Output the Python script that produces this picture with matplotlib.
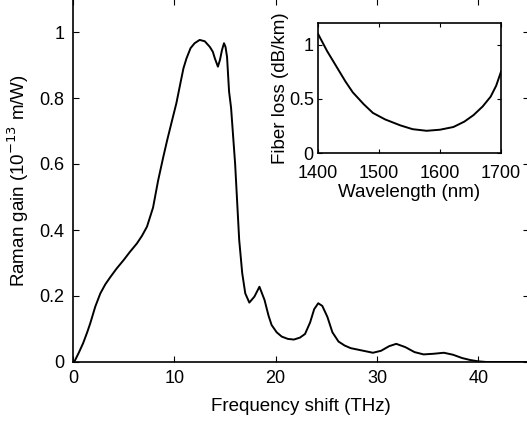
import matplotlib.pyplot as plt
from matplotlib.ticker import FuncFormatter

plt.rcParams['font.family'] = ['Liberation Sans', 'DejaVu Sans']

# Raman gain spectrum
freq_thz = [0.0, 0.2, 0.6, 1.0, 1.4, 1.7, 2.2, 2.7, 3.2, 3.7, 4.3, 5.0, 5.6, 6.3,
            6.8, 7.3, 7.9, 8.4, 8.9, 9.3, 9.8, 10.2, 10.6, 10.9, 11.2, 11.6, 12.0,
            12.5, 13.0, 13.5, 13.8, 14.0, 14.3, 14.5, 14.7, 14.9, 15.05, 15.2,
            15.4, 15.6, 16.0, 16.4, 16.7, 17.0, 17.4, 17.9, 18.4, 18.9, 19.3,
            19.6, 20.1, 20.6, 21.2, 21.8, 22.4, 22.9, 23.4, 23.8, 24.2, 24.6,
            25.1, 25.6, 26.2, 26.8, 27.4, 28.5, 29.6, 30.4, 31.2, 31.9, 32.8,
            33.7, 34.6, 35.6, 36.6, 37.5, 38.4, 39.2, 40.0, 40.8, 42.0, 45.0]
gain = [0.0, 0.005, 0.03, 0.057, 0.09, 0.117, 0.168, 0.208, 0.236, 0.258, 0.283,
        0.309, 0.333, 0.359, 0.382, 0.41, 0.468, 0.55, 0.62, 0.673, 0.735, 0.784,
        0.845, 0.89, 0.92, 0.951, 0.966, 0.976, 0.972, 0.955, 0.94, 0.92, 0.895,
        0.915, 0.945, 0.966, 0.955, 0.925, 0.82, 0.77, 0.6, 0.37, 0.269, 0.208,
        0.18, 0.198, 0.228, 0.188, 0.14, 0.112, 0.09, 0.077, 0.07, 0.068, 0.074,
        0.085, 0.12, 0.16, 0.178, 0.17, 0.137, 0.09, 0.062, 0.05, 0.042, 0.035,
        0.028, 0.034, 0.048, 0.055, 0.045, 0.03, 0.023, 0.025, 0.028, 0.022,
        0.012, 0.006, 0.002, 0.0, 0.0, 0.0]

# fiber loss inset
wavelength_nm = [1400, 1415, 1430, 1445, 1457, 1475, 1490, 1510, 1535, 1555,
                 1578, 1600, 1622, 1640, 1655, 1670, 1683, 1692, 1700]
loss_db_km = [1.1, 0.94, 0.8, 0.66, 0.56, 0.45, 0.37, 0.31, 0.255, 0.22, 0.205,
              0.215, 0.24, 0.29, 0.35, 0.43, 0.52, 0.62, 0.75]

fmt = FuncFormatter(lambda v, p: f'{v:g}')

fig = plt.figure(figsize=(5.27, 4.24), dpi=100)
ax = fig.add_axes([73 / 527, 62 / 424, 456 / 527, 363 / 424])
ax.plot(freq_thz, gain, color='black', lw=1.4)
ax.set_xlim(0, 45)
ax.set_ylim(0, 1.1)
ax.set_xticks([0, 10, 20, 30, 40])
ax.set_yticks([0, 0.2, 0.4, 0.6, 0.8, 1.0])
ax.yaxis.set_major_formatter(fmt)
ax.tick_params(direction='in', top=True, right=True, length=4, labelsize=13, pad=6)
ax.set_xlabel('Frequency shift (THz)', fontsize=13.5, labelpad=8)
ax.set_ylabel('Raman gain (10$^{-13}$ m/W)', fontsize=13.5, labelpad=6)
for s in ax.spines.values():
    s.set_linewidth(1.2)

# inset
ins = fig.add_axes([318 / 527, 271 / 424, 183 / 527, 130 / 424])
ins.plot(wavelength_nm, loss_db_km, color='black', lw=1.4)
ins.set_xlim(1400, 1700)
ins.set_ylim(0, 1.2)
ins.set_xticks([1400, 1500, 1600, 1700])
ins.set_yticks([0, 0.5, 1])
ins.yaxis.set_major_formatter(fmt)
ins.tick_params(direction='in', top=True, right=True, length=3, labelsize=13, pad=3)
ins.tick_params(axis='x', pad=9)
ins.set_xlabel('Wavelength (nm)', fontsize=13.5, labelpad=1)
ins.set_ylabel('Fiber loss (dB/km)', fontsize=13.5, labelpad=0)
for s in ins.spines.values():
    s.set_linewidth(1.2)

fig.savefig('out.png', dpi=100)
